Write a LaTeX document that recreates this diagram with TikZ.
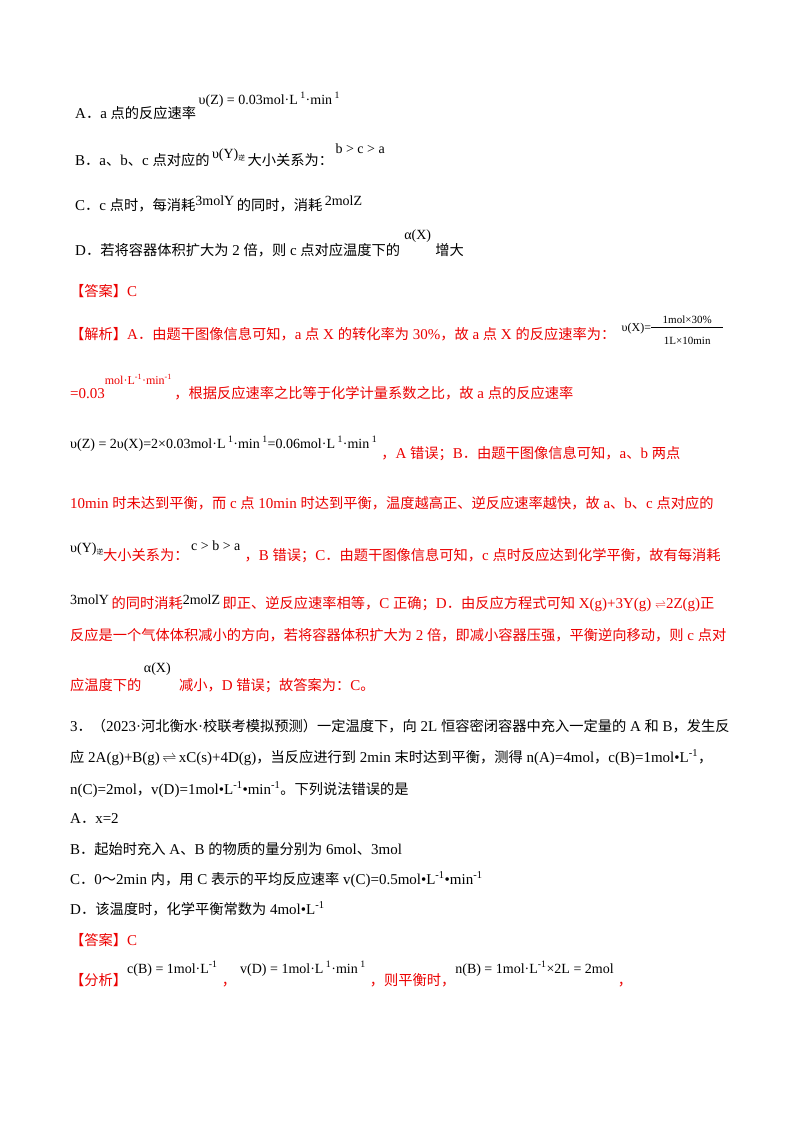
\documentclass[tikz,border=0pt]{standalone}
\usepackage{fontspec}
\setmainfont{Liberation Serif}
\newfontfamily\cjk[Scale=0.95]{Noto Sans CJK SC}
\newcommand\zh[1]{{\cjk #1}}
\newcommand\su[1]{\textsuperscript{#1}}
\newcommand\up[2]{\raisebox{#1pt}{\fontsize{14}{15}\selectfont #2}}
\newcommand\nixi{\raisebox{-2pt}{\fontsize{7}{8}\selectfont\zh{逆}}}
\definecolor{ans}{RGB}{235,0,0}
\begin{document}
\begin{tikzpicture}[x=1pt,y=-1pt,
  t/.style={inner sep=0pt,anchor=base west,font=\fontsize{15}{17}\selectfont},
  r/.style={t,text=ans}]
\useasboundingbox (0,0) rectangle (800,1132);
% options
\node[t] (a1) at (75,118) {A\zh{．}a \zh{点的反应速率}\,\up{14}{υ(Z) = 0.03mol·L\su{ 1}·min\su{ 1}}};
\node[t] (b1) at (75,165) {B\zh{．}a\zh{、}b\zh{、}c \zh{点对应的}\,\up{7}{υ(Y)\nixi}\,\zh{大小关系为：}\,\up{12}{b > c > a}};
\node[t] (c1) at (75,210) {C\zh{．}c \zh{点时，每消耗}\up{5}{3molY}\,\zh{的同时，消耗}\,\up{5}{2molZ}};
\node[t] (d1) at (75,255) {D\zh{．}\zh{若将容器体积扩大为} 2 \zh{倍，则} c \zh{点对应温度下的}\;\up{16}{α(X)}\;\zh{增大}};
% answer
\node[r] (e1) at (70,296) {\zh{【答案】}C};
\node[r] (f1) at (70,339) {\zh{【解析】}A\zh{．}\zh{由题干图像信息可知，}a \zh{点} X \zh{的转化率为} 30\%\zh{，故} a \zh{点} X \zh{的反应速率为：}};
\node[t,font=\fontsize{12}{14}\selectfont] (f2) at ([xshift=6pt,yshift=8pt]f1.base east) {υ(X)=};
\node[t,font=\fontsize{11}{12}\selectfont,anchor=base] (f3) at ([xshift=36pt,yshift=8pt]f2.base east) {1mol×30\%};
\node[t,font=\fontsize{11}{12}\selectfont,anchor=base] (f4) at ([xshift=36pt,yshift=-13pt]f2.base east) {1L×10min};
\draw[line width=0.5pt] ([yshift=4pt]f2.base east) -- ++(72pt,0);
\node[r] (g1) at (70,398) {=0.03\up{14}{\fontsize{12}{14}\selectfont mol·L\su{-1}·min\su{-1}}\,\zh{，根据反应速率之比等于化学计量系数之比，故} a \zh{点的反应速率}};
\node[r] (h1) at (70,458) {\up{10}{\color{black}υ(Z) = 2υ(X)=2×0.03mol·L\su{ 1}·min\su{ 1}=0.06mol·L\su{ 1}·min\su{ 1}}\;\zh{，}A \zh{错误；}B\zh{．}\zh{由题干图像信息可知，}a\zh{、}b \zh{两点}};
\node[r] (i1) at (70,508) {10min \zh{时未达到平衡，而} c \zh{点} 10min \zh{时达到平衡，温度越高正、逆反应速率越快，故} a\zh{、}b\zh{、}c \zh{点对应的}};
\node[r] (j1) at (70,560) {\up{8}{\color{black}υ(Y)\nixi}\zh{大小关系为：}\,\up{10}{\color{black}c > b > a}\;\zh{，}B \zh{错误；}C\zh{．}\zh{由题干图像信息可知，}c \zh{点时反应达到化学平衡，故有每消耗}};
\node[r] (k1) at (70,608) {\up{4}{\color{black}3molY}\,\zh{的同时消耗}\up{4}{\color{black}2molZ}\,\zh{即正、逆反应速率相等，}C \zh{正确；}D\zh{．}\zh{由反应方程式可知} X(g)+3Y(g) {\fontsize{11}{12}\selectfont$\rightleftharpoons$}2Z(g)\zh{正}};
\node[r] (l1) at (70,640) {\zh{反应是一个气体体积减小的方向，若将容器体积扩大为} 2 \zh{倍，即减小容器压强，平衡逆向移动，则} c \zh{点对}};
\node[r] (m1) at (70,690) {\zh{应温度下的}\,\up{18}{\color{black}α(X)}\;\;\zh{减小，}D \zh{错误；故答案为：}C\zh{。}};
% question 3
\node[t] (n1) at (70,731) {3\zh{．}\zh{（}2023·\zh{河北衡水}·\zh{校联考模拟预测）一定温度下，向} 2L \zh{恒容密闭容器中充入一定量的} A \zh{和} B\zh{，发生反}};
\node[t] (n2) at (70,762) {\zh{应} 2A(g)+B(g)$\,\rightleftharpoons\,$xC(s)+4D(g)\zh{，当反应进行到} 2min \zh{末时达到平衡，测得} n(A)=4mol\zh{，}c(B)=1mol•L\su{-1}\zh{，}};
\node[t] (n3) at (70,794) {n(C)=2mol\zh{，}v(D)=1mol•L\su{-1}•min\su{-1}\zh{。下列说法错误的是}};
\node[t] (o1) at (70,823) {A\zh{．}x=2};
\node[t] (o2) at (70,854) {B\zh{．}\zh{起始时充入} A\zh{、}B \zh{的物质的量分别为} 6mol\zh{、}3mol};
\node[t] (o3) at (70,884) {C\zh{．}0\zh{～}2min \zh{内，用} C \zh{表示的平均反应速率} v(C)=0.5mol•L\su{-1}•min\su{-1}};
\node[t] (o4) at (70,914) {D\zh{．}\zh{该温度时，化学平衡常数为} 4mol•L\su{-1}};
\node[r] (p1) at (70,945) {\zh{【答案】}C};
\node[r] (q1) at (70,985) {\zh{【分析】}\up{12}{\color{black}c(B) = 1mol·L\su{-1}}\;\zh{，}\;\up{12}{\color{black}v(D) = 1mol·L\su{ 1}·min\su{ 1}}\;\zh{，则平衡时，}\up{12}{\color{black}n(B) = 1mol·L\su{-1}×2L = 2mol}\;\zh{，}};
\end{tikzpicture}
\end{document}
